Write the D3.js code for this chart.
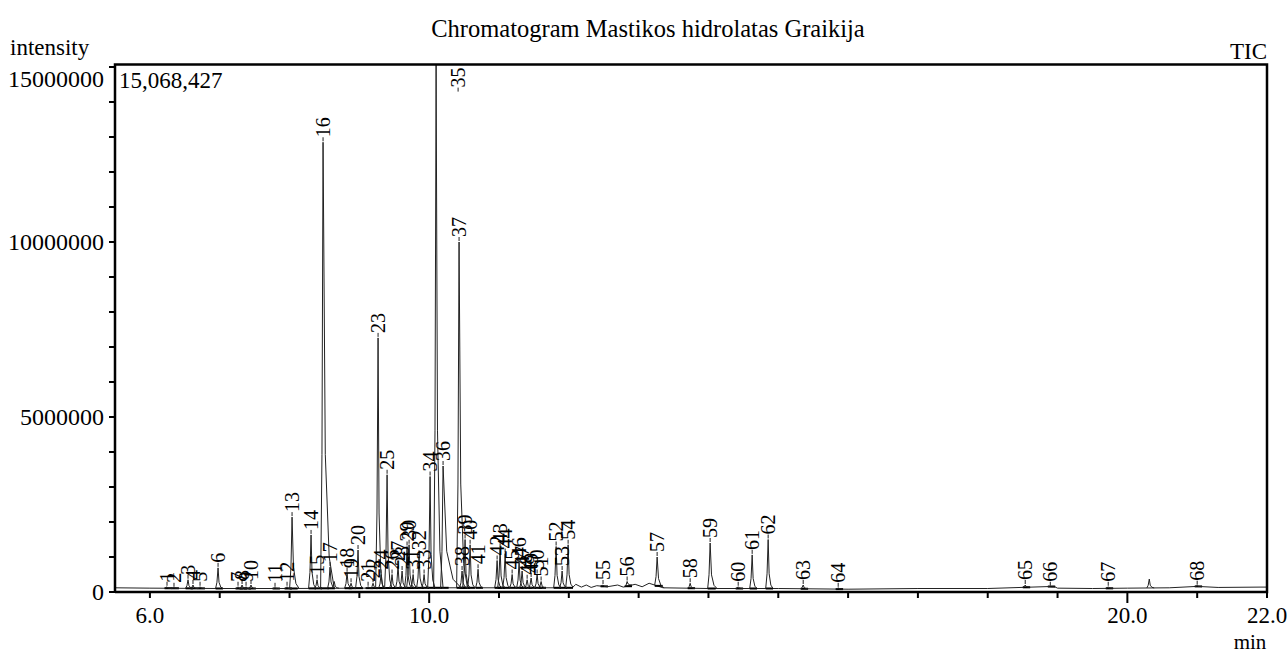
<!DOCTYPE html>
<html>
<head>
<meta charset="utf-8">
<script src="https://cdn.jsdelivr.net/npm/d3@7"></script>
<style>
  html, body { margin: 0; padding: 0; background: #fff; }
  svg { display: block; font-family: "Liberation Serif", "Times New Roman", serif; }
</style>
</head>
<body>
<svg id="chart" width="1288" height="653"></svg>
<script>
//---- Data -----------------------------------------------------------------------------------------
var title = "Chromatogram Mastikos hidrolatas Graikija";
var maxIntensity = 15068427;

// labelled peaks: number, retention time (min), apex intensity
var peakIds   = [1, 2, 3, 4, 5, 6, 7, 8, 9, 10, 11, 12, 13, 14, 15, 16, 17, 18, 19, 20,
                 21, 22, 23, 24, 25, 26, 27, 28, 29, 30, 31, 32, 33, 34, 35, 36, 37, 38, 39, 40,
                 41, 42, 43, 44, 45, 46, 47, 48, 49, 50, 51, 52, 53, 54, 55, 56, 57, 58, 59, 60,
                 61, 62, 63, 64, 65, 66, 67, 68];
var peakTimes = [6.245, 6.345, 6.546, 6.617, 6.718, 6.976, 7.262, 7.320, 7.377, 7.448,
                 7.792, 7.964, 8.036, 8.308, 8.394, 8.480, 8.580, 8.824, 8.881, 8.981,
                 9.125, 9.196, 9.268, 9.311, 9.397, 9.468, 9.554, 9.612, 9.683, 9.712,
                 9.770, 9.855, 9.927, 10.013, 10.099, 10.199, 10.428, 10.471, 10.514, 10.586,
                 10.700, 10.973, 11.016, 11.088, 11.188, 11.288, 11.331, 11.403, 11.460, 11.546,
                 11.603, 11.818, 11.904, 11.990, 12.490, 12.835, 13.265, 13.738, 14.024, 14.426,
                 14.626, 14.855, 15.357, 15.858, 18.537, 18.896, 19.726, 21.000];
var peakHeights = [0.15e6, 0.12e6, 0.35e6, 0.20e6, 0.15e6, 0.69e6, 0.15e6, 0.20e6, 0.15e6, 0.20e6,
                   0.12e6, 0.15e6, 2.14e6, 1.63e6, 0.35e6, 12.85e6, 0.71e6, 0.55e6, 0.25e6, 1.20e6,
                   0.15e6, 0.25e6, 7.26e6, 0.50e6, 3.35e6, 0.50e6, 0.75e6, 0.60e6, 1.30e6, 1.35e6,
                   0.50e6, 1.05e6, 0.50e6, 3.30e6, 15.068427e6, 3.60e6, 10.0e6, 0.60e6, 1.50e6, 1.35e6,
                   0.65e6, 0.90e6, 1.25e6, 1.10e6, 0.50e6, 0.85e6, 0.60e6, 0.35e6, 0.40e6, 0.50e6,
                   0.30e6, 1.30e6, 0.60e6, 1.35e6, 0.20e6, 0.30e6, 1.00e6, 0.25e6, 1.40e6, 0.15e6,
                   1.06e6, 1.50e6, 0.20e6, 0.12e6, 0.20e6, 0.15e6, 0.15e6, 0.18e6];
// peaks with a longer right tail (min)
var tailIds    = [13, 16, 35, 36, 37, 57, 59];
var tailWidths = [0.10, 0.16, 0.10, 0.26, 0.12, 0.10, 0.10];

// unlabelled peaks
var extraTimes   = [20.314, 8.640];
var extraHeights = [0.37e6, 0.30e6];

// baseline of the trace
var baseTimes  = [5.5, 6.0, 7.0, 8.0, 9.0, 10.0, 11.0, 12.05, 12.1, 12.18, 12.25, 12.32, 12.4,
                  12.55, 12.7, 12.78, 12.95, 13.05, 13.15, 13.35, 14.0, 15.0, 16.0, 17.0, 18.0,
                  18.95, 19.0, 19.5, 20.0, 20.6, 21.0, 21.3, 21.9, 22.0];
var baseValues = [0.12e6, 0.11e6, 0.10e6, 0.10e6, 0.11e6, 0.12e6, 0.12e6, 0.12e6, 0.22e6, 0.14e6,
                  0.20e6, 0.13e6, 0.18e6, 0.15e6, 0.20e6, 0.14e6, 0.22e6, 0.15e6, 0.25e6, 0.12e6,
                  0.10e6, 0.10e6, 0.08e6, 0.10e6, 0.10e6, 0.16e6, 0.11e6, 0.10e6, 0.11e6, 0.12e6,
                  0.16e6, 0.13e6, 0.14e6, 0.14e6];

// axis ticks
var xMinorTicks = d3.range(6, 23, 1);
var xMajorTicks = [10, 20];
var xTickLabels = [6, 10, 20, 22];
var yMinorTicks = d3.range(0, 16e6, 1e6);
var yTickLabels = [0, 5e6, 10e6, 15e6];

//---- Layout ---------------------------------------------------------------------------------------
var svg = d3.select("#chart");
var left = 115, right = 1267, bottom = 592;

var x = d3.scaleLinear().domain([5.5, 22]).range([left, right]);
var y = d3.scaleLinear().domain([0, 15e6]).range([bottom, 67]);
var plotTop = y(maxIntensity);
var base = d3.scaleLinear().domain(baseTimes).range(baseValues);

var defWl = 0.035, defWr = 0.07;

function peakShape(t, h, wl, wr) {
  var b0 = base(t - wl), b1 = base(t + wr);
  return [
    [t - wl, b0],
    [t - wl * 0.45, b0 + (h - b0) * 0.3],
    [t, h],
    [t + wr * 0.2, b1 + (h - b1) * 0.3],
    [t + wr * 0.55, b1 + (h - b1) * 0.07],
    [t + wr, b1]
  ];
}

var line = d3.line().x(function (d) { return x(d[0]); }).y(function (d) { return y(d[1]); });

var peaks = peakIds.map(function (id, i) {
  var k = tailIds.indexOf(id);
  return { id: id, t: peakTimes[i], h: peakHeights[i], wl: defWl, wr: k >= 0 ? tailWidths[k] : defWr };
});
var extras = extraTimes.map(function (t, i) {
  return { id: null, t: t, h: extraHeights[i], wl: defWl, wr: defWr };
});

//---- Trace ----------------------------------------------------------------------------------------
var g = svg.append("g");

g.append("path")
  .attr("d", line(baseTimes.map(function (t, i) { return [t, baseValues[i]]; })))
  .attr("fill", "none")
  .attr("stroke", "#222")
  .attr("stroke-width", 1);

// integration baselines
g.selectAll(".integ")
  .data(peaks)
  .enter()
  .append("line")
  .attr("x1", function (d) { return x(d.t - d.wl); })
  .attr("x2", function (d) { return x(d.t + Math.min(d.wr, 0.08)); })
  .attr("y1", function (d) { return y(base(d.t)); })
  .attr("y2", function (d) { return y(base(d.t)); })
  .attr("stroke", "#000")
  .attr("stroke-width", 2);

g.selectAll(".peak")
  .data(peaks.concat(extras))
  .enter()
  .append("path")
  .attr("d", function (d) { return line(peakShape(d.t, d.h, d.wl, d.wr)); })
  .attr("fill", "none")
  .attr("stroke", "#222")
  .attr("stroke-width", 1);

// peak labels
var lab = g.selectAll(".plab")
  .data(peaks)
  .enter()
  .append("g")
  .attr("transform", function (d) {
    var px = x(d.t), py = y(d.h) - 4;
    if (py - 22 < plotTop) { px += 22; py = plotTop + 24; }
    return "translate(" + px + "," + py + ")";
  });
lab.append("line")
  .attr("x1", 0).attr("x2", 0)
  .attr("y1", 3).attr("y2", -1)
  .attr("stroke", "#222");
lab.append("text")
  .attr("transform", "rotate(-90)")
  .attr("x", 1)
  .attr("dy", "0.35em")
  .attr("font-size", 20)
  .text(function (d) { return d.id; });

//---- Frame and axes -------------------------------------------------------------------------------
var ax = svg.append("g").attr("stroke", "#000");
ax.append("path")
  .attr("d", "M" + left + "," + bottom + "V" + plotTop + "H" + right + "V" + bottom + "H" + left)
  .attr("fill", "none")
  .attr("stroke-width", 2.5);

ax.selectAll(".yt")
  .data(yMinorTicks)
  .enter()
  .append("line")
  .attr("x1", left - 6).attr("x2", left)
  .attr("y1", function (d) { return y(d); })
  .attr("y2", function (d) { return y(d); })
  .attr("stroke-width", 2);

ax.selectAll(".xt")
  .data(xMinorTicks)
  .enter()
  .append("line")
  .attr("x1", function (d) { return x(d); })
  .attr("x2", function (d) { return x(d); })
  .attr("y1", bottom)
  .attr("y2", function (d) { return bottom + (xMajorTicks.indexOf(d) >= 0 ? 11 : 6); })
  .attr("stroke-width", 2);

svg.selectAll(".ylab")
  .data(yTickLabels)
  .enter()
  .append("text")
  .attr("x", left - 11)
  .attr("y", function (d) { return Math.max(y(d), plotTop + 14); })
  .attr("dy", "0.35em")
  .attr("text-anchor", "end")
  .attr("font-size", 24)
  .text(d3.format("d"));

svg.selectAll(".xlab")
  .data(xTickLabels)
  .enter()
  .append("text")
  .attr("x", function (d) { return x(d); })
  .attr("y", bottom + 23)
  .attr("dy", "0.35em")
  .attr("text-anchor", "middle")
  .attr("font-size", 23)
  .text(d3.format(".1f"));

svg.append("text").attr("x", 648).attr("y", 37).attr("text-anchor", "middle")
  .attr("font-size", 24.5).text(title);
svg.append("text").attr("x", 10).attr("y", 55).attr("font-size", 23).text("intensity");
svg.append("text").attr("x", right).attr("y", 59).attr("text-anchor", "end")
  .attr("font-size", 23).text("TIC");
svg.append("text").attr("x", left + 4).attr("y", 88).attr("font-size", 23)
  .text(d3.format(",")(maxIntensity));
svg.append("text").attr("x", 1250).attr("y", 649).attr("text-anchor", "middle")
  .attr("font-size", 21).text("min");
</script>
</body>
</html>
